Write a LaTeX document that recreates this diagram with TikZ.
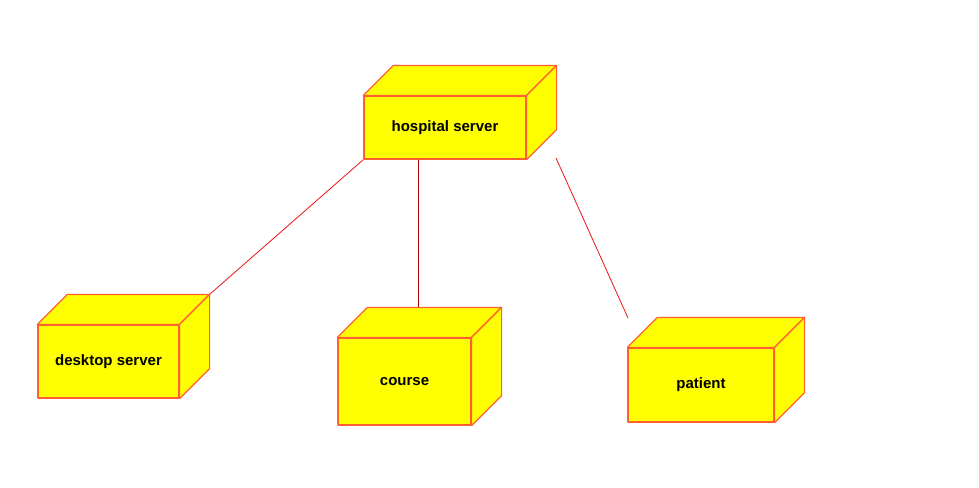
\documentclass[tikz,border=0pt]{standalone}
\usepackage{fontspec}
\setmainfont{Liberation Sans}
\usetikzlibrary{calc}

\definecolor{boxline}{RGB}{255,96,48}
\definecolor{boxfill}{RGB}{255,255,0}
\definecolor{linkred}{RGB}{235,20,20}
\definecolor{linkdark}{RGB}{175,0,0}

\begin{document}
\begin{tikzpicture}[
  x=1pt, y=-1pt,
  font=\fontsize{15}{17}\selectfont\bfseries,
  face/.style={draw=boxline, fill=boxfill, line width=1.2pt, line join=round, inner sep=0pt},
  link/.style={draw=linkred, line width=0.8pt},
  vlink/.style={draw=linkdark, line width=0.8pt}
]
\useasboundingbox (0,0) rectangle (979,487);
% front faces
\node[face, minimum width=162pt, minimum height=63pt] (hosp) at (445,127.5) {hospital server};
\node[face, minimum width=141pt, minimum height=73pt] (desk) at (108.5,361.5) {desktop server};
\node[face, minimum width=133pt, minimum height=87pt] (course) at (404.5,381.5) {course};
\node[face, minimum width=146pt, minimum height=74pt] (pat) at (701,385) {patient};
% top and side faces
\foreach \n in {hosp,desk,course,pat}{
  \filldraw[face] (\n.north west) -- ++(30,-30) -- ($(\n.north east)+(30,-30)$) -- (\n.north east) -- cycle;
  \filldraw[face] (\n.north east) -- ++(30,-30) -- ($(\n.south east)+(30,-30)$) -- (\n.south east) -- cycle;
}
% connectors
\coordinate (desk-top) at ($(desk.north east)+(30,-30)$);
\coordinate (hosp-mid) at ($(hosp.south west)+(55,0)$);
\coordinate (course-top) at ($(course.north west)+(81,-30)$);
\coordinate (hosp-end) at (556,158);
\coordinate (pat-end) at (628,318);
\draw[link] (hosp.south west) -- (desk-top);
\draw[vlink] (hosp-mid) -- (course-top);
\draw[link] (hosp-end) -- (pat-end);
\end{tikzpicture}
\end{document}
